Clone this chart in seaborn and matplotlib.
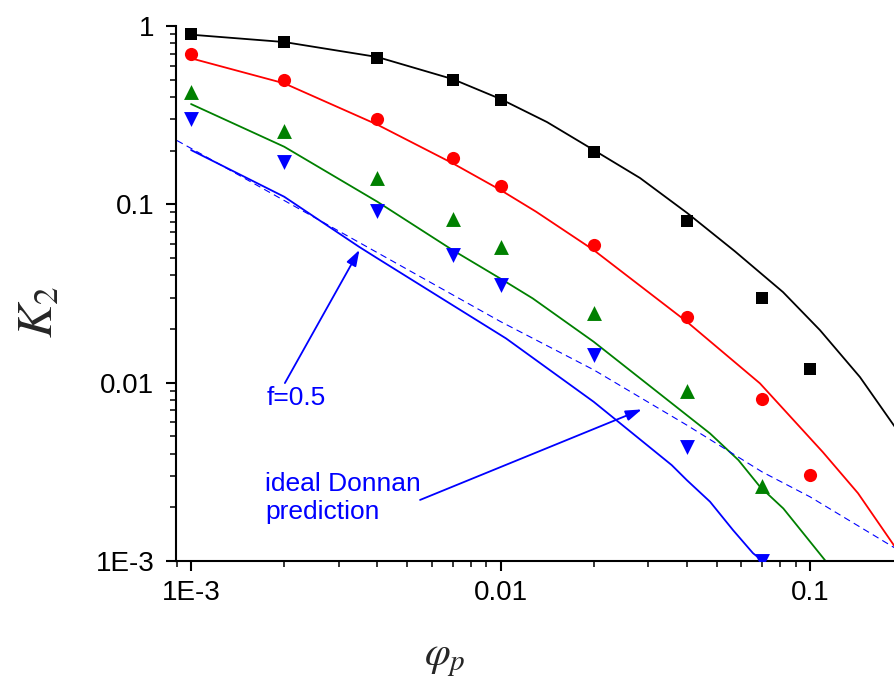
import matplotlib
matplotlib.use("Agg")
import matplotlib.pyplot as plt
import seaborn as sns
from matplotlib.ticker import FixedLocator, FixedFormatter, LogLocator, NullFormatter

# Measured partition coefficients K2 against polymer volume fraction
phi_meas = [0.001, 0.002, 0.004, 0.007, 0.01, 0.02, 0.04, 0.07, 0.1]
k2_black = [0.90, 0.81, 0.66, 0.50, 0.385, 0.197, 0.0806, 0.0298, 0.0119]
k2_red = [0.70, 0.50, 0.30, 0.182, 0.127, 0.059, 0.0233, 0.0081, 0.00303]
phi_green = [0.001, 0.002, 0.004, 0.007, 0.01, 0.02, 0.04, 0.07]
k2_green = [0.427, 0.258, 0.141, 0.083, 0.0576, 0.0246, 0.0090, 0.00263]
phi_blue = [0.001, 0.002, 0.004, 0.007, 0.01, 0.02, 0.04, 0.07]
k2_blue = [0.30, 0.173, 0.0917, 0.052, 0.0353, 0.0143, 0.00435, 0.00100]

# Model curves
phi_fit_black = [0.001, 0.002, 0.004, 0.007, 0.01, 0.01413, 0.02, 0.02823,
                 0.0401, 0.0572, 0.0818, 0.1077, 0.145, 0.1882, 0.22]
fit_black = [0.894, 0.813, 0.670, 0.504, 0.3896, 0.2893, 0.2016, 0.1405,
             0.0894, 0.0545, 0.0322, 0.0197, 0.01075, 0.00564, 0.0035]
phi_fit_red = [0.001, 0.002, 0.004, 0.007, 0.01, 0.01302, 0.02, 0.04,
               0.0689, 0.110, 0.1429, 0.1882, 0.22]
fit_red = [0.659, 0.477, 0.2797, 0.170, 0.1203, 0.091, 0.0554, 0.02196,
           0.00991, 0.00408, 0.00240, 0.00120, 0.0007]
phi_fit_green = [0.001, 0.002, 0.004, 0.007, 0.01, 0.0127, 0.02, 0.04753,
                 0.0587, 0.0689, 0.0820, 0.1118, 0.13]
fit_green = [0.365, 0.2104, 0.1034, 0.0554, 0.0383, 0.0297, 0.01696, 0.00519,
             0.00368, 0.00261, 0.00197, 0.00101, 0.0007]
phi_fit_blue = [0.001, 0.002, 0.00349, 0.004, 0.007, 0.01042, 0.02, 0.03573,
                0.04, 0.04753, 0.0564, 0.0654, 0.0698, 0.08]
fit_blue = [0.2016, 0.1103, 0.0578, 0.0498, 0.0272, 0.0177, 0.00781, 0.00345,
            0.00284, 0.00215, 0.00149, 0.001107, 0.00101, 0.0007]

# Ideal Donnan prediction
phi_ideal = [0.0009, 0.001, 0.01, 0.02, 0.04, 0.07, 0.1, 0.19]
k2_ideal = [0.228, 0.206, 0.0220, 0.0118, 0.00578, 0.00316, 0.00229, 0.00117]

x_ticks = [0.001, 0.01, 0.1]
x_tick_labels = ["1E-3", "0.01", "0.1"]
y_ticks = [0.001, 0.01, 0.1, 1]
y_tick_labels = ["1E-3", "0.01", "0.1", "1"]

sns.set_style("ticks")
plt.rcParams["font.family"] = ["Liberation Sans", "DejaVu Sans"]
plt.rcParams["mathtext.fontset"] = "stix"

fig = plt.figure(figsize=(8.95, 6.81), dpi=100)
ax = fig.add_axes([176 / 895, 120 / 681, 719 / 895, 535 / 681])

curves = [
    (phi_fit_black, fit_black, "#000000"),
    (phi_fit_red, fit_red, "#FF0000"),
    (phi_fit_green, fit_green, "#008000"),
    (phi_fit_blue, fit_blue, "#0000FF"),
]
for xs, ys, col in curves:
    sns.lineplot(x=xs, y=ys, ax=ax, color=col, linewidth=1.3,
                 sort=False, estimator=None)

sns.lineplot(x=phi_ideal, y=k2_ideal, ax=ax, color="#0000FF", linewidth=0.8,
             linestyle=(0, (6, 4)), sort=False, estimator=None)

points = [
    (phi_meas, k2_black, "#000000", "s", 64),
    (phi_meas, k2_red, "#FF0000", "o", 90),
    (phi_green, k2_green, "#008000", "^", 115),
    (phi_blue, k2_blue, "#0000FF", "v", 115),
]
for xs, ys, col, mk, sz in points:
    sns.scatterplot(x=xs, y=ys, ax=ax, color=col, marker=mk, s=sz,
                    linewidth=0, zorder=3)

ax.set_xscale("log")
ax.set_yscale("log")
ax.set_xlim(0.000894, 0.1882)
ax.set_ylim(0.001, 1.0)

ax.xaxis.set_major_locator(FixedLocator(x_ticks))
ax.xaxis.set_major_formatter(FixedFormatter(x_tick_labels))
ax.yaxis.set_major_locator(FixedLocator(y_ticks))
ax.yaxis.set_major_formatter(FixedFormatter(y_tick_labels))
ax.xaxis.set_minor_locator(LogLocator(base=10, subs=[2, 3, 4, 5, 6, 7, 8, 9], numticks=20))
ax.yaxis.set_minor_locator(LogLocator(base=10, subs=[2, 3, 4, 5, 6, 7, 8, 9], numticks=20))
ax.xaxis.set_minor_formatter(NullFormatter())
ax.yaxis.set_minor_formatter(NullFormatter())

ax.tick_params(which="major", direction="out", length=7.5, width=1.5,
               labelsize=20, pad=6, colors="black")
ax.tick_params(which="minor", direction="out", length=4.3, width=1.3)
ax.tick_params(axis="y", which="major", pad=8)

for side in ["top", "right"]:
    ax.spines[side].set_visible(False)
for side in ["left", "bottom"]:
    ax.spines[side].set_linewidth(1.5)
    ax.spines[side].set_color("black")

ax.set_ylabel(r"$K_{2}$", fontsize=36, rotation=90)
ax.yaxis.set_label_coords(-0.1586, 0.466)
ax.set_xlabel(r"$\varphi_{p}$", fontsize=30)
ax.xaxis.set_label_coords(0.374, -0.145)

blue = "#0000FF"
arrow = dict(arrowstyle="-|>,head_length=0.6,head_width=0.2", color=blue,
             lw=1.3, mutation_scale=16, shrinkA=0, shrinkB=0)
ax.annotate("", xy=(0.0035, 0.0555), xytext=(0.00201, 0.00995),
            arrowprops=arrow)
ax.text(0.002184, 0.0082, "f=0.5", color=blue, fontsize=19,
        ha="center", va="center")
ax.annotate("", xy=(0.02859, 0.00708), xytext=(0.005495, 0.0022),
            arrowprops=arrow)
ax.text(0.001735, 0.00315, "ideal Donnan\nprediction", color=blue,
        fontsize=19, ha="left", va="top", linespacing=1.2)

fig.savefig("out.png", dpi=100)
